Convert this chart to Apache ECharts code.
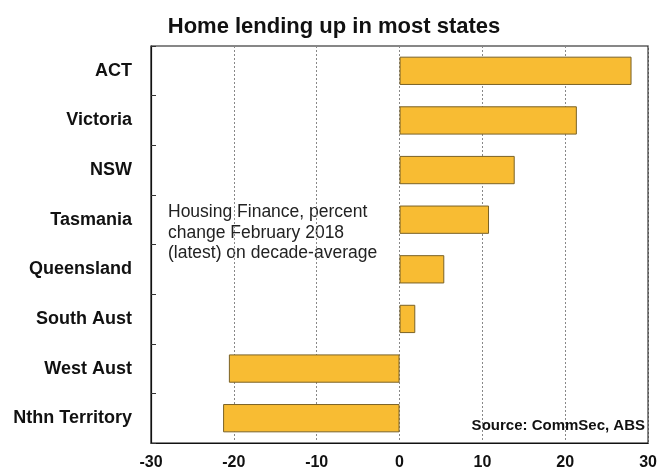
<!DOCTYPE html>
<html><head><meta charset="utf-8">
<script src="https://cdn.jsdelivr.net/npm/echarts@6/dist/echarts.min.js"></script>
<style>html,body{margin:0;padding:0;background:#fff}#c{width:660px;height:471px}</style>
</head><body><div id="c"></div>
<script>
const categories = ['ACT','Victoria','NSW','Tasmania','Queensland','South Aust','West Aust','Nthn Territory'];
const values = [28.0, 21.4, 13.9, 10.8, 5.4, 1.9, -20.6, -21.3];
const xTicks = [-30, -20, -10, 0, 10, 20, 30];
const titleText = 'Home lending up in most states';
const noteText = 'Housing Finance, percent\nchange February 2018\n(latest) on decade-average';
const sourceText = 'Source: CommSec, ABS';

const chart = echarts.init(document.getElementById('c'));
chart.setOption({
  backgroundColor: '#fff',
  animation: false,
  title: {
    text: titleText, left: 329, top: 11, textAlign: 'center',
    textStyle: {fontFamily: 'Liberation Sans, Arial', fontWeight: 'bold', fontSize: 22, color: '#111'}
  },
  grid: {left: 151, right: 8, top: 46, bottom: 25, show: true, borderColor: '#111', borderWidth: 1.2, backgroundColor: 'transparent'},
  xAxis: {
    type: 'value', min: xTicks[0], max: xTicks[xTicks.length-1], interval: 10,
    axisLine: {show: true, onZero: false, lineStyle: {color: '#111', width: 1.2}},
    axisTick: {show: false},
    axisLabel: {margin: 12, color: '#111', fontFamily: 'Liberation Sans, Arial', fontWeight: 'bold', fontSize: 16},
    splitLine: {show: true, lineStyle: {type: [2, 2], color: '#888', width: 1}}
  },
  yAxis: {
    type: 'category', data: categories, inverse: true,
    axisLine: {show: true, onZero: false, lineStyle: {color: '#111', width: 1.2}},
    axisTick: {show: true, inside: true, length: 5, lineStyle: {color: '#333'}},
    axisLabel: {margin: 19, color: '#111', fontFamily: 'Liberation Sans, Arial', fontWeight: 'bold', fontSize: 18},
    splitLine: {show: false}
  },
  series: [{
    type: 'bar', data: values, barWidth: '57%',
    itemStyle: {color: '#F8BC33', borderColor: '#7a6226', borderWidth: 1}
  }],
  graphic: [
    {type: 'text', left: 168, top: 202, style: {text: noteText, font: '17.5px "Liberation Sans", Arial', fill: '#222', lineHeight: 20.5}},
    {type: 'text', right: 15, top: 418, style: {text: sourceText, font: 'bold 15px "Liberation Sans", Arial', fill: '#111'}}
  ]
});
</script></body></html>
